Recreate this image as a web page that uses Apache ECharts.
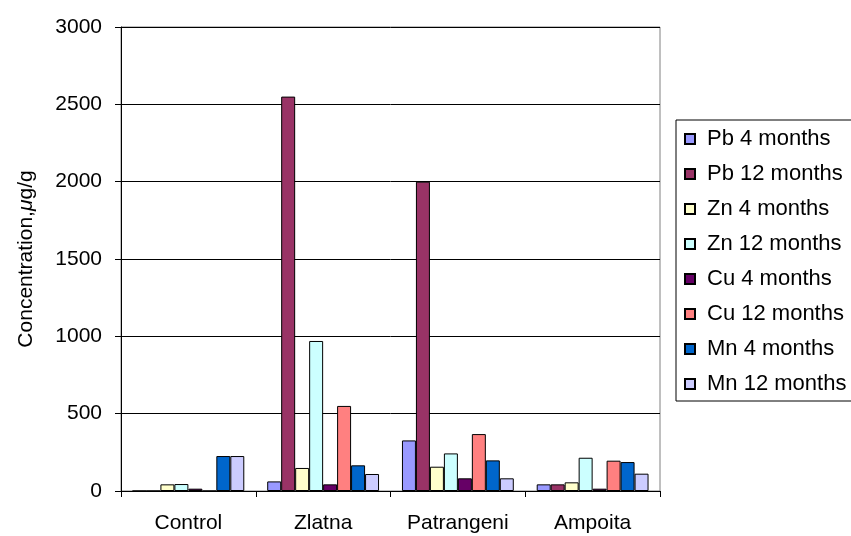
<!DOCTYPE html>
<html><head><meta charset="utf-8">
<script src="https://cdn.jsdelivr.net/npm/echarts@6/dist/echarts.min.js"></script>
<style>html,body{margin:0;padding:0;background:#fff}#c{width:851px;height:536px}</style>
</head><body><div id="c"></div>
<script>
const categories = ['Control', 'Zlatna', 'Patrangeni', 'Ampoita'];
const seriesNames = ['Pb 4 months','Pb 12 months','Zn 4 months','Zn 12 months','Cu 4 months','Cu 12 months','Mn 4 months','Mn 12 months'];
const pb4  = [0, 62, 327, 43];
const pb12 = [0, 2550, 2000, 43];
const zn4  = [43, 149, 157, 56];
const zn12 = [45, 970, 243, 215];
const cu4  = [15, 43, 82, 15];
const cu12 = [0, 550, 368, 196];
const mn4  = [226, 166, 198, 187];
const mn12 = [226, 110, 82, 112];
const yTicks = [0, 500, 1000, 1500, 2000, 2500, 3000];
const colors = ['#9999FF','#993366','#FFFFCC','#CCFFFF','#660066','#FF8080','#0066CC','#CCCCFF'];
const allData = [pb4, pb12, zn4, zn12, cu4, cu12, mn4, mn12];

const chart = echarts.init(document.getElementById('c'));
const font = 'Liberation Sans, Arial, sans-serif';
chart.setOption({
  animation: false,
  color: colors,
  grid: { left: 121, right: 191, top: 27, bottom: 45, show: true, borderColor: '#808080', borderWidth: 1 },
  legend: {
    orient: 'vertical', left: 676, top: 120,
    padding: [8, 6, 6, 8],
    borderColor: '#000', borderWidth: 1,
    icon: 'rect', itemWidth: 10, itemHeight: 10, itemGap: 13,
    textStyle: { fontFamily: font, fontSize: 22, color: '#000', lineHeight: 22, padding: [0, 0, 0, 7] },
    data: seriesNames
  },
  xAxis: {
    type: 'category', data: categories,
    axisLine: { lineStyle: { color: '#000' } },
    axisTick: { show: true, alignWithLabel: false, length: 6, lineStyle: { color: '#000' } },
    axisLabel: { fontFamily: font, fontSize: 21, color: '#000', margin: 22 }
  },
  yAxis: {
    type: 'value', min: yTicks[0], max: yTicks[yTicks.length - 1], interval: 500,
    name: '{a|Concentration,}{b|μ}{a|g/g}', nameLocation: 'middle', nameGap: 84,
    nameTextStyle: {
      fontFamily: font, fontSize: 21, color: '#000',
      rich: {
        a: { fontFamily: font, fontSize: 21, color: '#000' },
        b: { fontFamily: font, fontSize: 21, color: '#000', fontStyle: 'italic' }
      }
    },
    axisLine: { show: true, lineStyle: { color: '#000' } },
    axisTick: { show: true, length: 6, lineStyle: { color: '#000' } },
    axisLabel: { fontFamily: font, fontSize: 21, color: '#000', margin: 19, formatter: v => String(v) },
    splitLine: { lineStyle: { color: '#000', width: 1 } }
  },
  series: seriesNames.map((n, i) => ({
    name: n, type: 'bar', data: allData[i],
    barGap: '0%', barCategoryGap: '17%',
    itemStyle: { color: colors[i], borderColor: '#000', borderWidth: 1 }
  }))
});
</script></body></html>
